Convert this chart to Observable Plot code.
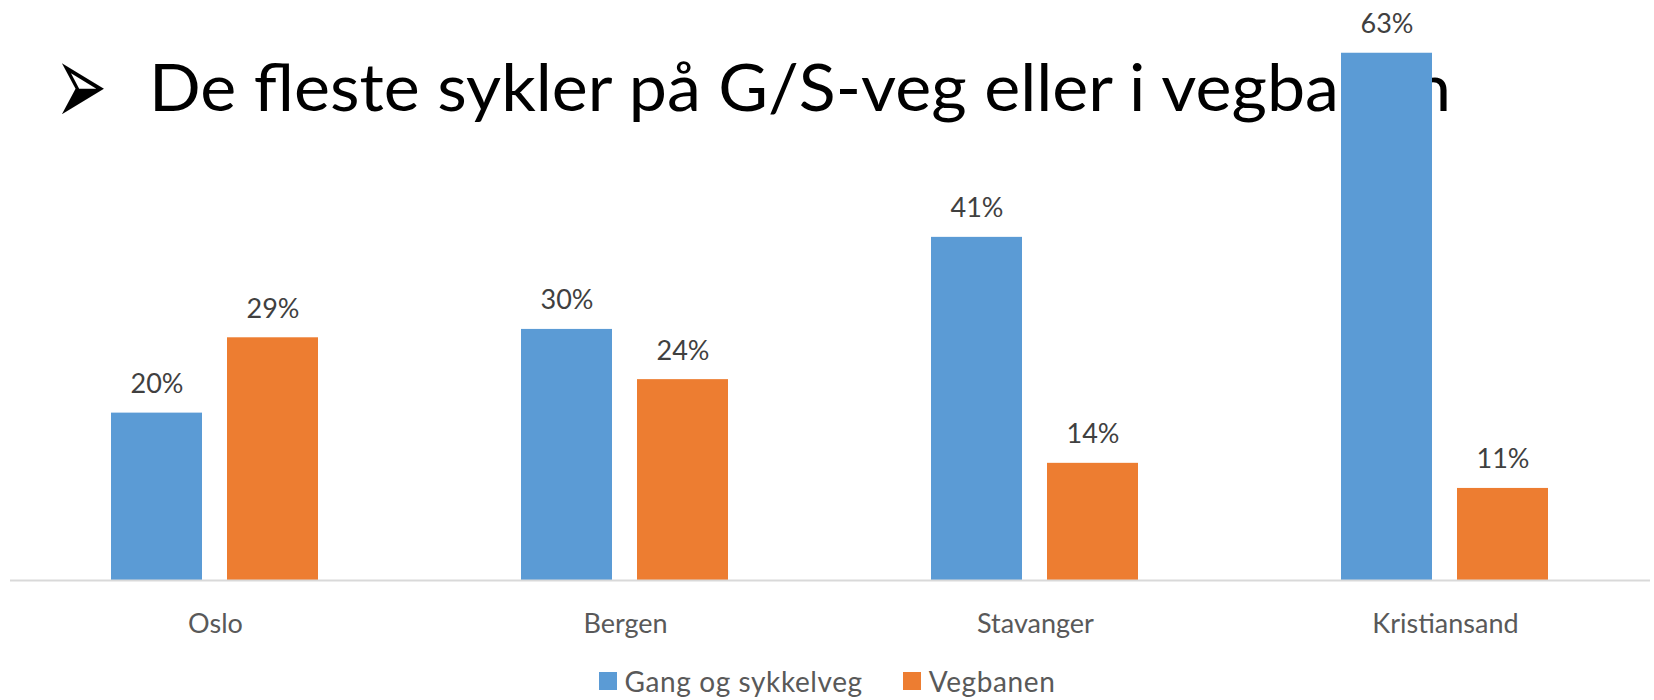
<!DOCTYPE html>
<html><head><meta charset="utf-8">
<script src="https://cdn.jsdelivr.net/npm/d3@7"></script>
<script src="https://cdn.jsdelivr.net/npm/@observablehq/plot@0.6"></script>
<style>
body{margin:0;background:#fff;}
#wrap{position:relative;width:1654px;height:700px;overflow:hidden;background:#fff;}
#title{position:absolute;left:0;top:0;}
#chart{position:relative;}
#chart svg{display:block;}
#legend{position:absolute;left:0;top:664px;width:1654px;display:flex;justify-content:center;gap:40px;font-family:Lato,sans-serif;font-size:28px;letter-spacing:0.6px;color:#595959;line-height:34px;}
.item{display:flex;align-items:center;}
.sw{width:18px;height:18px;margin-right:8px;}
</style></head>
<body>
<div id="wrap">
  <svg id="title" width="1654" height="220"></svg>
  <div id="chart"></div>
  <div id="legend"></div>
</div>
<script>
const cities = ["Oslo", "Bergen", "Stavanger", "Kristiansand"];
const series = ["Gang og sykkelveg", "Vegbanen"];
const gangOgSykkelveg = [20, 30, 41, 63];
const vegbanen = [29, 24, 14, 11];
const colors = ["#5B9BD5", "#ED7D31"];
const titleText = "De fleste sykler på G/S-veg eller i vegbanen";
const bullet = "➢";

const rows = [];
cities.forEach((c, i) => {
  rows.push({city: c, series: series[0], value: gangOgSykkelveg[i]});
  rows.push({city: c, series: series[1], value: vegbanen[i]});
});

// Title (drawn behind the chart, as in the original slide)
const tsvg = d3.select("#title");
const b = tsvg.append("text")
  .attr("font-family", "DejaVu Sans").attr("font-size", 116)
  .attr("fill", "#000").text(bullet);
const bw = b.node().getComputedTextLength() || 97;
const sx = 52 / bw;
b.attr("transform", `translate(55,125) scale(${sx},1)`);
tsvg.append("text").attr("x", 149).attr("y", 111)
  .attr("font-family", "Lato").attr("font-size", 66)
  .attr("textLength", 1302).attr("lengthAdjust", "spacingAndGlyphs")
  .attr("fill", "#000").text(titleText);

const chart = Plot.plot({
  width: 1654,
  height: 650,
  marginLeft: 8,
  marginRight: 3,
  marginTop: 36,
  marginBottom: 70,
  style: {background: "transparent", fontFamily: "Lato", fontSize: "27px", color: "#595959"},
  fx: {domain: cities, padding: 0, axis: "bottom", label: null, tickSize: 0, tickPadding: 33},
  x: {domain: series, paddingInner: 0.2137, paddingOuter: 0.862, axis: null},
  y: {domain: [0, 65], axis: null},
  color: {domain: series, range: colors},
  marks: [
    Plot.barY(rows, {fx: "city", x: "series", y: "value", fill: "series"}),
    Plot.ruleY([0], {stroke: "#d9d9d9", strokeWidth: 2}),
    Plot.text(rows, {fx: "city", x: "series", y: "value", text: d => d.value + "%",
      lineAnchor: "bottom", dy: -20, fill: "#404040", fontSize: 27})
  ]
});
document.getElementById("chart").appendChild(chart);

const legend = d3.select("#legend");
series.forEach((s, i) => {
  const it = legend.append("div").attr("class", "item");
  it.append("div").attr("class", "sw").style("background", colors[i]);
  it.append("span").text(s);
});
</script>
</body></html>
